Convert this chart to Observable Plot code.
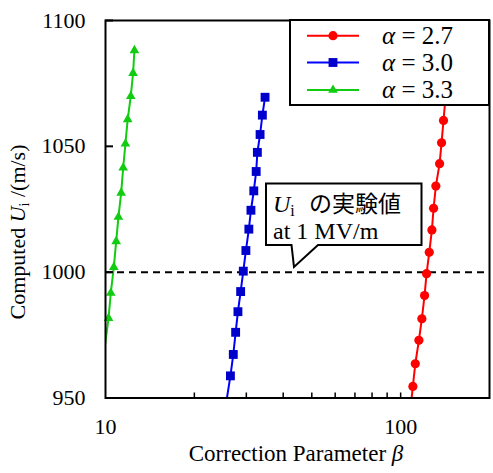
<!DOCTYPE html>
<html><head><meta charset="utf-8">
<script src="https://cdn.jsdelivr.net/npm/d3@7"></script>
<script src="https://cdn.jsdelivr.net/npm/@observablehq/plot@0.6"></script>
<style>body{margin:0;background:#fff}#chart{width:493px;height:473px}</style>
</head><body><div id="chart"></div>
<script>
// α = 2.7 (red, circles)
const betaA27 = [108.0,110.0,112.1,115.3,118.0,120.5,122.4,125.0,127.6,129.3,131.6,135.5,137.6,139.7,141.8,143.9];
const uA27    = [945.9,954.6,963.6,972.9,981.5,990.7,999.4,1007.9,1016.8,1025.4,1034.2,1043.1,1051.4,1060.3,1069.0,1077.7];
// α = 3.0 (blue, squares)
const betaA30 = [25.75,26.5,27.1,27.6,28.1,28.7,29.3,29.9,30.6,31.1,31.8,32.4,32.7,33.4,34.0,34.72];
const uA30    = [949.5,958.8,967.3,976.1,984.3,992.3,1000.4,1008.6,1017.1,1024.6,1032.3,1040.0,1047.6,1054.7,1062.4,1069.5];
// α = 3.3 (green, triangles)
const betaA33 = [9.95,10.24,10.42,10.67,10.87,11.06,11.30,11.48,11.68,11.89,12.18,12.40,12.53];
const uA33    = [970.5,981.7,991.7,1002.0,1012.2,1021.9,1031.5,1041.5,1051.0,1060.7,1069.9,1079.1,1088.1];

const seriesNames = ["α = 2.7","α = 3.0","α = 3.3"];
const seriesColors = ["#ff0000","#0000ff","#11cc11"];
const markerColors = ["#ff0000","#0000cc","#11cc11"];
const seriesSymbols = ["circle","square","triangle"];
const seriesR = [4.6,5.0,3.6];

const xDomain = [10,200];
const yDomain = [950,1100];
const xLabelTicks = [10,100];
const xMinorTicks = [20,30,40,50,60,70,80,90,100];
const yTicks = [950,1000,1050,1100];
const refU = 1000;

const betas = [betaA27, betaA30, betaA33];
const us = [uA27, uA30, uA33];
const rows = [];
seriesNames.forEach((s,i)=>betas[i].forEach((b,j)=>rows.push({series:s, idx:i, beta:b, u:us[i][j]})));
const inside = d => d.beta >= xDomain[0] && d.beta <= xDomain[1] && d.u >= yDomain[0] && d.u <= yDomain[1];

const marks = [
  Plot.ruleY([refU], {stroke:"black", strokeWidth:2, strokeDasharray:"7,5"}),
];
seriesNames.forEach((s,i)=>{
  const data = rows.filter(d=>d.idx===i);
  marks.push(Plot.line(data, {x:"beta", y:"u", stroke:seriesColors[i], strokeWidth:2, clip:true}));
  marks.push(Plot.dot(data.filter(inside), {x:"beta", y:"u", symbol:()=>seriesSymbols[i], fill:markerColors[i], stroke:"none", r:seriesR[i]}));
});
marks.push(
  Plot.axisY(yTicks, {tickSize:0, tickPadding:20, label:null, fontSize:22, tickFormat:d=>String(d)}),
  Plot.axisY(yTicks, {tickSize:-8, tickFormat:()=>"", label:null, strokeWidth:2}),
  Plot.axisX(xLabelTicks, {tickSize:0, tickPadding:20, label:null, fontSize:22, tickFormat:d=>String(d)}),
  Plot.axisX(xMinorTicks, {tickSize:-5, tickFormat:()=>"", label:null, strokeWidth:1.5}),
  Plot.frame({stroke:"black", strokeWidth:2})
);

const plot = Plot.plot({
  width:493, height:473,
  marginLeft:105, marginRight:4, marginTop:20, marginBottom:75.5,
  x:{type:"log", domain:xDomain},
  y:{domain:yDomain},
  style:{fontFamily:"'Liberation Serif', serif", fontSize:"22px", color:"black", background:"white"},
  marks
});
document.getElementById("chart").appendChild(plot);

const svg = d3.select(plot);
const serif = "'Liberation Serif', serif";

// axis titles
const xt = svg.append("text").attr("x",296).attr("y",461).attr("text-anchor","middle")
  .attr("font-family",serif).attr("font-size",23).attr("fill","black");
xt.append("tspan").text("Correction Parameter ");
xt.append("tspan").attr("font-style","italic").text("β");

const yt = svg.append("text").attr("transform","translate(25,232) rotate(-90)").attr("text-anchor","middle")
  .attr("font-family",serif).attr("font-size",22).attr("fill","black");
yt.append("tspan").text("Computed ");
yt.append("tspan").attr("font-style","italic").text("U");
yt.append("tspan").attr("font-size",14).attr("dy",4).text("i");
yt.append("tspan").attr("dy",-4).text(" /(m/s)");

// legend
const lg = svg.append("g");
lg.append("rect").attr("x",290).attr("y",20).attr("width",199).attr("height",85)
  .attr("fill","white").attr("stroke","black").attr("stroke-width",2);
const rowY = [35.7,62.5,90];
seriesNames.forEach((s,i)=>{
  lg.append("line").attr("x1",307).attr("x2",359).attr("y1",rowY[i]).attr("y2",rowY[i])
    .attr("stroke",seriesColors[i]).attr("stroke-width",2);
  const sym = d3.symbol(i===0?d3.symbolCircle:i===1?d3.symbolSquare:d3.symbolTriangle, Math.PI*seriesR[i]*seriesR[i]);
  lg.append("path").attr("d",sym()).attr("transform",`translate(333,${rowY[i]})`).attr("fill",markerColors[i]);
  const t = lg.append("text").attr("x",382).attr("y",rowY[i]+8).attr("text-anchor","start")
    .attr("font-family",serif).attr("font-size",25).attr("fill","black");
  t.append("tspan").attr("font-style","italic").text("α");
  t.append("tspan").text(s.slice(1));
});

// callout
const co = svg.append("g");
co.append("path").attr("d","M266,183.5H421.5V245H318L294,267L291.5,245H266Z")
  .attr("fill","white").attr("stroke","black").attr("stroke-width",2).attr("stroke-linejoin","miter");
const c1 = co.append("text").attr("x",273).attr("y",212).attr("text-anchor","start")
  .attr("font-family",serif).attr("font-size",24).attr("fill","black");
c1.append("tspan").attr("font-style","italic").text("U");
c1.append("tspan").attr("font-size",16).attr("dy",4).text("i");
co.append("text").attr("x",309).attr("y",212).attr("text-anchor","start").attr("font-family","'Noto Sans CJK JP', sans-serif")
  .attr("font-size",23).attr("fill","black").text("の実験値");
co.append("text").attr("x",273).attr("y",239).attr("text-anchor","start")
  .attr("font-family",serif).attr("font-size",24).attr("fill","black").text("at 1 MV/m");
</script>
</body></html>
